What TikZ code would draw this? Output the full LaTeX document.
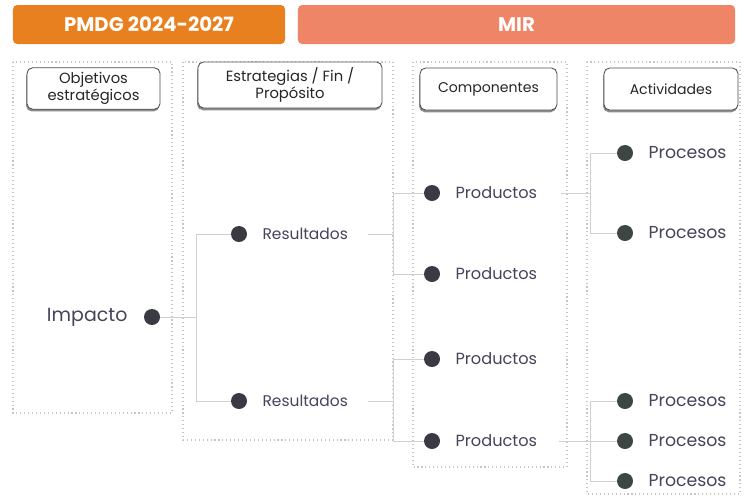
\documentclass[tikz,border=0pt]{standalone}
\usepackage{fontspec}
\setmainfont{Poppins}
\usetikzlibrary{positioning}
\usetikzlibrary{shadows}
\definecolor{pmdgorange}{HTML}{E9801F}
\definecolor{mirsalmon}{HTML}{EE8566}
\definecolor{textdark}{HTML}{45435A}
\definecolor{dotdark}{HTML}{3A3A42}
\definecolor{dotgreen}{HTML}{3D4642}
\definecolor{linegray}{HTML}{D0D0D0}
\definecolor{colgray}{HTML}{C6C6C6}

\begin{document}
\begin{tikzpicture}[x=0.025cm, y=-0.025cm, node distance=0.375cm]
\tikzstyle{banner} = [rounded corners=3pt, text=white, inner sep=0pt, minimum height=0.975cm, font=\bfseries\fontsize{14}{16}\selectfont]
\tikzstyle{column} = [draw=colgray, dotted, line width=0.8pt]
\tikzstyle{header} = [draw=black!70, line width=0.6pt, rounded corners=4pt, fill=white, align=center, text=black!85, font=\fontsize{10.5}{12}\selectfont, drop shadow={shadow xshift=-0.6pt, shadow yshift=-1.6pt, fill=black!45, opacity=1}]
\tikzstyle{dot} = [circle, inner sep=0pt, minimum size=0.4cm, fill=dotdark]
\tikzstyle{item} = [text=textdark, inner sep=0pt, font=\fontsize{11.5}{13}\selectfont]
\tikzstyle{link} = [draw=linegray, line width=0.7pt]

\useasboundingbox (0,0) rectangle (748,496);

% banners
\node[banner, fill=pmdgorange, minimum width=6.8cm] (pmdg) at (149,24.5) {PMDG 2024-2027};
\node[banner, fill=mirsalmon, minimum width=10.925cm] (mir) at (516.5,24.5) {MIR};

% columns
\draw[column] (13,62) rectangle (172,413);
\draw[column] (183,62) rectangle (393,440);
\draw[column] (413,62) rectangle (567,467);
\draw[column] (587,62) rectangle (740,494);

% column headers
\node[header, minimum width=3.325cm, minimum height=1.025cm] (obj) at (93.5,88.5) {Objetivos\\estratégicos};
\node[header, minimum width=4.6cm, minimum height=1.15cm] (estr) at (290,85) {Estrategias / Fin /\\Propósito};
\node[header, minimum width=3.425cm, minimum height=1.05cm, font=\fontsize{10}{12}\selectfont] (comp) at (488.5,89) {Componentes};
\node[header, minimum width=3.35cm, minimum height=1.05cm, font=\fontsize{10}{12}\selectfont] (act) at (671,89) {Actividades};

% impacto
\node[dot] (imp) at (152,317) {};
\node[item, left=0.4cm of imp, font=\fontsize{13.5}{15}\selectfont] (impt) {Impacto};

% resultados
\node[dot] (res1) at (239,234) {};
\node[item, right=of res1, font=\fontsize{11}{13}\selectfont] (res1t) {Resultados};
\node[dot] (res2) at (239,401) {};
\node[item, right=of res2, font=\fontsize{11}{13}\selectfont] (res2t) {Resultados};

% productos
\node[dot] (prod1) at (432,193) {};
\node[item, right=of prod1] (prod1t) {Productos};
\node[dot] (prod2) at (432,274) {};
\node[item, right=of prod2] (prod2t) {Productos};
\node[dot] (prod3) at (432,359) {};
\node[item, right=of prod3] (prod3t) {Productos};
\node[dot] (prod4) at (432,441) {};
\node[item, right=of prod4] (prod4t) {Productos};

% procesos
\node[dot, fill=dotgreen] (proc1) at (625,153) {};
\node[item, right=of proc1, font=\fontsize{12.3}{14}\selectfont] (proc1t) {Procesos};
\node[dot, fill=dotgreen] (proc2) at (625,233) {};
\node[item, right=of proc2, font=\fontsize{12.3}{14}\selectfont] (proc2t) {Procesos};
\node[dot, fill=dotgreen] (proc3) at (625,401) {};
\node[item, right=of proc3, font=\fontsize{12.3}{14}\selectfont] (proc3t) {Procesos};
\node[dot, fill=dotgreen] (proc4) at (625,441) {};
\node[item, right=of proc4, font=\fontsize{12.3}{14}\selectfont] (proc4t) {Procesos};
\node[dot, fill=dotgreen] (proc5) at (625,481) {};
\node[item, right=of proc5, font=\fontsize{12.3}{14}\selectfont] (proc5t) {Procesos};

% connectors
\coordinate (hubA) at (196,317);
\coordinate (hubB1) at (393,234);
\coordinate (hubB2) at (393,401);
\coordinate (hubC1) at (590,193);
\coordinate (hubC2) at (590,441);

\draw[link] (imp) -- (hubA);
\draw[link] (hubA |- res1) -- (hubA |- res2);
\draw[link] (hubA |- res1) -- (res1);
\draw[link] (hubA |- res2) -- (res2);

\draw[link] ([xshift=0.5cm]res1t.east) -- (hubB1);
\draw[link] (hubB1 |- prod1) -- (hubB1 |- prod2);
\draw[link] (hubB1 |- prod1) -- (prod1);
\draw[link] (hubB1 |- prod2) -- (prod2);
\draw[link] ([xshift=0.5cm]res2t.east) -- (hubB2);
\draw[link] (hubB2 |- prod3) -- (hubB2 |- prod4);
\draw[link] (hubB2 |- prod3) -- (prod3);
\draw[link] (hubB2 |- prod4) -- (prod4);

\draw[link] ([xshift=0.6cm]prod1t.east) -- (hubC1);
\draw[link] (hubC1 |- proc1) -- (hubC1 |- proc2);
\draw[link] (hubC1 |- proc1) -- (proc1);
\draw[link] (hubC1 |- proc2) -- (proc2);
\draw[link] ([xshift=0.55cm]prod4t.east) -- (hubC2);
\draw[link] (hubC2 |- proc3) -- (hubC2 |- proc5);
\draw[link] (hubC2 |- proc3) -- (proc3);
\draw[link] (hubC2 |- proc4) -- (proc4);
\draw[link] (hubC2 |- proc5) -- (proc5);

\end{tikzpicture}
\end{document}
